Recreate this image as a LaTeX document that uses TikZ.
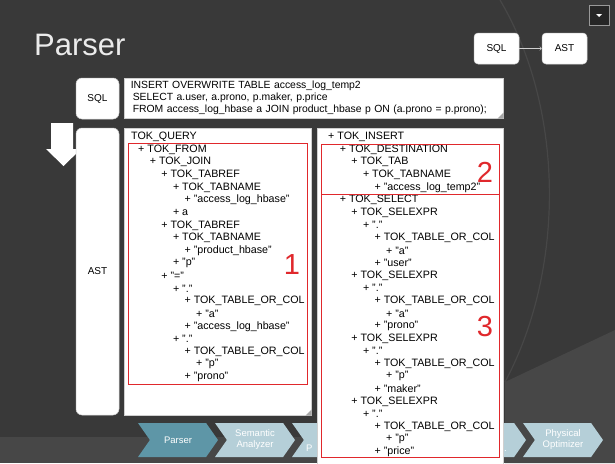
\documentclass[tikz,border=0pt]{standalone}
\usepackage{fontspec}
\setmainfont{Liberation Sans}
\usetikzlibrary{shapes.symbols}
\definecolor{nen}{HTML}{393939}
\definecolor{nenhat}{HTML}{474747}
\definecolor{vien}{HTML}{CFCFCF}
\definecolor{do}{HTML}{E0282C}
\definecolor{dam}{HTML}{5E96A7}
\definecolor{nhat}{HTML}{B5CFD8}
\tikzset{
 hop/.style={draw=vien,fill=white,line width=0.5pt},
 nhan/.style={hop,rounded corners=6pt,minimum width=43pt,font=\fontsize{10}{12}\selectfont},
 tok/.style={anchor=west,inner sep=0pt,font=\fontsize{10.7}{12}\selectfont},
 so/.style={text=do,inner sep=0pt,font=\fontsize{29}{30}\selectfont},
 khung/.style={draw=do,line width=0.9pt},
 stage/.style={shape=signal,signal from=west,signal to=east,signal pointer angle=110,
  minimum width=80pt,minimum height=34pt,inner sep=0pt,align=center,text=white,
  font=\fontsize{9.5}{11}\selectfont},
 gap/.style={fill=gray!70}
}
\begin{document}
\begin{tikzpicture}[x=1pt,y=-1pt]
\useasboundingbox (0,0) rectangle (615,463);
% nen slide
\fill[nen] (0,0) rectangle (615,463);
\fill[nenhat] (0,437) rectangle (615,463);
\fill[nenhat] (505,382)--(615,330)--(615,463)--(505,463)--cycle;
\draw[nenhat,line width=1.2pt] (500,0) .. controls (565,110) and (565,270) .. (505,382);
% tieu de
\node[anchor=base west,inner sep=0pt,text=white!92!black,font=\fontsize{31}{34}\selectfont] (title) at (34,55) {Parser};
\node[draw=gray!80,fill=black!85,minimum size=20pt,inner sep=0pt] (ddn) at (599,15) {};
\fill[white] ([xshift=-3pt,yshift=1pt]ddn.center)--([xshift=3pt,yshift=1pt]ddn.center)--([yshift=-2pt]ddn.center)--cycle;
\node[nhan,rounded corners=4pt,minimum width=45pt,minimum height=31pt] (sqlS) at (496.5,48.5) {SQL};
\node[nhan,rounded corners=4pt,minimum width=45pt,minimum height=31pt] (astS) at (564.5,48.5) {AST};
\draw[->,vien,line width=0.6pt] (sqlS)--(astS);
% mui ten xuong
\fill[white] (51,123)--(73,123)--(73,149)--(81,149)--(63.5,166)--(46,149)--(51,149)--cycle;
% cot nhan
\node[nhan,minimum height=41pt] (sqlL) at (97.5,98.5) {SQL};
\node[nhan,minimum height=287pt] (astL) at (97.5,271.5) {AST};
% cau SQL
\node[hop,anchor=north west,minimum width=379pt,minimum height=40pt,text width=366pt,
 inner xsep=6.5pt,inner ysep=3pt,align=left,font=\fontsize{10.4}{12}\selectfont] (sqlT) at (124,78)
 {INSERT OVERWRITE TABLE access\_log\_temp2\\
 \hspace*{2pt}SELECT a.user, a.prono, p.maker, p.price\\
 \hspace*{2pt}FROM access\_log\_hbase a JOIN product\_hbase p ON (a.prono = p.prono);};
\fill[gap] (sqlT.south east)--++(-6,0)--++(6,-6)--cycle;
% cac buoc bien dich
\foreach \c/\t [count=\i] in {dam/Parser,nhat/Semantic\\Analyzer,nhat/,nhat/,nhat/,nhat/Physical\\Optimizer}
 \node[stage,fill=\c] (st\i) at (178+77*\i-77,440) {\t};
\node[anchor=base west,inner sep=0pt,text=white,font=\fontsize{9.5}{11}\selectfont] (st3p) at (306,451) {P};
\node[anchor=base east,inner sep=0pt,text=white,font=\fontsize{9.5}{11}\selectfont] (st5p) at (507,451) {.};
% cay AST
\node[hop,anchor=north west,minimum width=187pt,minimum height=287pt] (astA) at (124,128) {};
\fill[gap] (astA.south east)--++(-6,0)--++(6,-6)--cycle;
\node[hop,anchor=north west,minimum width=186pt,minimum height=345pt] (astB) at (317,128) {};
\node[tok] (a1) at (131,137) {TOK\_QUERY};
\foreach \l/\t [count=\i from 2] in {1/TOK\_FROM,2/TOK\_JOIN,3/TOK\_TABREF,4/TOK\_TABNAME,
 5/"access\_log\_hbase",4/a,3/TOK\_TABREF,4/TOK\_TABNAME,5/"product\_hbase",4/"p",3/"=",
 4/".",5/TOK\_TABLE\_OR\_COL,6/"a",5/"access\_log\_hbase",4/".",5/TOK\_TABLE\_OR\_COL,
 6/"p",5/"prono"}
 \node[tok] (a\i) at (126.4+11.6*\l,137+12.63*\i-12.63) {+ \t};
\foreach \l/\t [count=\i] in {1/TOK\_INSERT,2/TOK\_DESTINATION,3/TOK\_TAB,4/TOK\_TABNAME,
 5/"access\_log\_temp2",2/TOK\_SELECT,3/TOK\_SELEXPR,4/".",5/TOK\_TABLE\_OR\_COL,6/"a",
 5/"user",3/TOK\_SELEXPR,4/".",5/TOK\_TABLE\_OR\_COL,6/"a",5/"prono",3/TOK\_SELEXPR,
 4/".",5/TOK\_TABLE\_OR\_COL,6/"p",5/"maker",3/TOK\_SELEXPR,4/".",5/TOK\_TABLE\_OR\_COL,
 6/"p",5/"price"}
 \node[tok] (b\i) at (316.4+11.6*\l,137+12.6*\i-12.6) {+ \t};
% khung do
\draw[khung] (128,143) rectangle (307,384);
\draw[khung] (321,144) rectangle (499,194);
\draw[khung] (321,194) rectangle (499,457);
\node[so] (n1) at (292,265) {1};
\node[so] (n2) at (485,172) {2};
\node[so] (n3) at (485,327) {3};
\end{tikzpicture}
\end{document}
